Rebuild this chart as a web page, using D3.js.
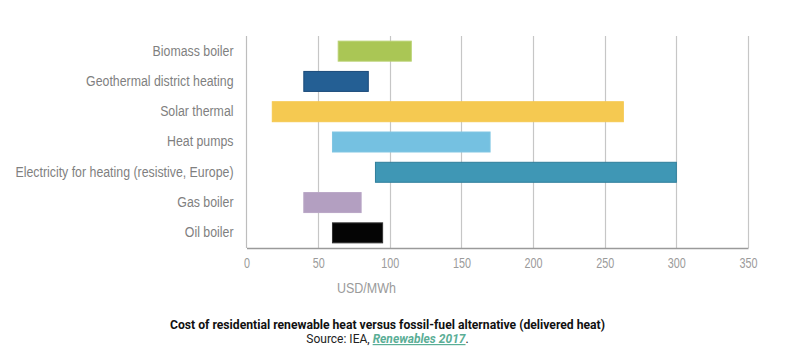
<!DOCTYPE html>
<html><head><meta charset="utf-8">
<script src="https://cdn.jsdelivr.net/npm/d3@7"></script>
<style>body{margin:0;background:#fff}svg{display:block}</style>
</head><body>
<svg id="c" width="807" height="359"></svg>
<script>
const categories = ["Biomass boiler","Geothermal district heating","Solar thermal","Heat pumps","Electricity for heating (resistive, Europe)","Gas boiler","Oil boiler"];
const lowValues = [64, 40, 18, 60, 90, 40, 60];
const highValues = [115, 85, 263, 170, 300, 80, 95];
const barColors = ["#aac655","#245f94","#f5c951","#75c1e1","#3f97b5","#b39fc1","#050505"];
const barStrokes = ["#b8d170","#1a4a7a","#f5c951","#80c6e3","#2f7e9b","#b9a6c6","#333333"];
const tickValues = [0,50,100,150,200,250,300,350];
const xTitle = "USD/MWh";
const chartTitle = "Cost of residential renewable heat versus fossil-fuel alternative (delivered heat)";

(function(){
const svg = d3.select("#c");
const mLeft = 246.5, mRight = 748, mTop = 36, mBottom = 248;
const font = "'Liberation Sans', Arial, sans-serif";
const x = d3.scaleLinear().domain([0,350]).range([mLeft,mRight]);
const y = d3.scaleBand().domain(categories).range([mTop,mBottom]).paddingInner(0.34).paddingOuter(0.17);

function squeeze(sel, k){ sel.each(function(){ const w=this.getComputedTextLength(); d3.select(this).attr("textLength", w*k).attr("lengthAdjust","spacingAndGlyphs"); }); }

svg.append("g").selectAll("line").data(tickValues.slice(1)).join("line")
  .attr("x1",d=>Math.round(x(d))+0.5).attr("x2",d=>Math.round(x(d))+0.5)
  .attr("y1",mTop).attr("y2",mBottom).attr("stroke","#c6c6c6").attr("stroke-width",1.2);
svg.append("line").attr("x1",mLeft).attr("x2",mLeft).attr("y1",mTop).attr("y2",mBottom).attr("stroke","#bdbdbd").attr("stroke-width",1.2);

svg.append("g").selectAll("rect").data(categories).join("rect")
  .attr("x",(d,i)=>x(lowValues[i])).attr("width",(d,i)=>x(highValues[i])-x(lowValues[i]))
  .attr("y",d=>y(d)).attr("height",y.bandwidth())
  .attr("fill",(d,i)=>barColors[i]).attr("stroke",(d,i)=>barStrokes[i]).attr("stroke-width",1);

const xa = svg.append("g").attr("transform",`translate(0,${mBottom})`)
  .call(d3.axisBottom(x).tickValues(tickValues).tickSize(0).tickPadding(10));
xa.select(".domain").attr("stroke","#9a9a9a").attr("stroke-width",1.5);
const tl = xa.selectAll("text").attr("fill","#9b9b9b").style("font-family",font).style("font-size","14px");
let w100 = 1; tl.each(function(d){ if(d===100) w100 = this.getComputedTextLength(); });
squeeze(tl, 18 / w100);

const ya = svg.append("g").attr("transform",`translate(${mLeft},0)`)
  .call(d3.axisLeft(y).tickSize(0).tickPadding(13));
ya.select(".domain").remove();
const labs = ya.selectAll("text").attr("fill","#7f7f7f").style("font-family",font).style("font-size","14px");
let maxW = 0; labs.each(function(){ maxW = Math.max(maxW, this.getComputedTextLength()); });
squeeze(labs, 218 / maxW);

const xt = svg.append("text").attr("x",366.5).attr("y",293).attr("text-anchor","middle")
  .attr("fill","#9b9b9b").style("font-family",font).style("font-size","14px").text(xTitle);
squeeze(xt, 59 / xt.node().getComputedTextLength());

svg.append("text").attr("x",387.5).attr("y",329).attr("text-anchor","middle")
  .attr("fill","#111").style("font-family","Roboto, sans-serif").attr("font-weight","bold")
  .style("font-size","12.5px").attr("textLength",435).attr("lengthAdjust","spacingAndGlyphs").text(chartTitle);

const src = svg.append("text").attr("x",387.5).attr("y",343).attr("text-anchor","middle")
  .attr("fill","#222").style("font-family","Roboto, sans-serif").style("font-size","12px");
src.append("tspan").text("Source: IEA, ");
src.append("tspan").attr("fill","#5aae96").attr("font-style","italic").attr("font-weight","bold").attr("text-decoration","underline").text("Renewables 2017");
src.append("tspan").text(".");
})();
</script>
</body></html>
